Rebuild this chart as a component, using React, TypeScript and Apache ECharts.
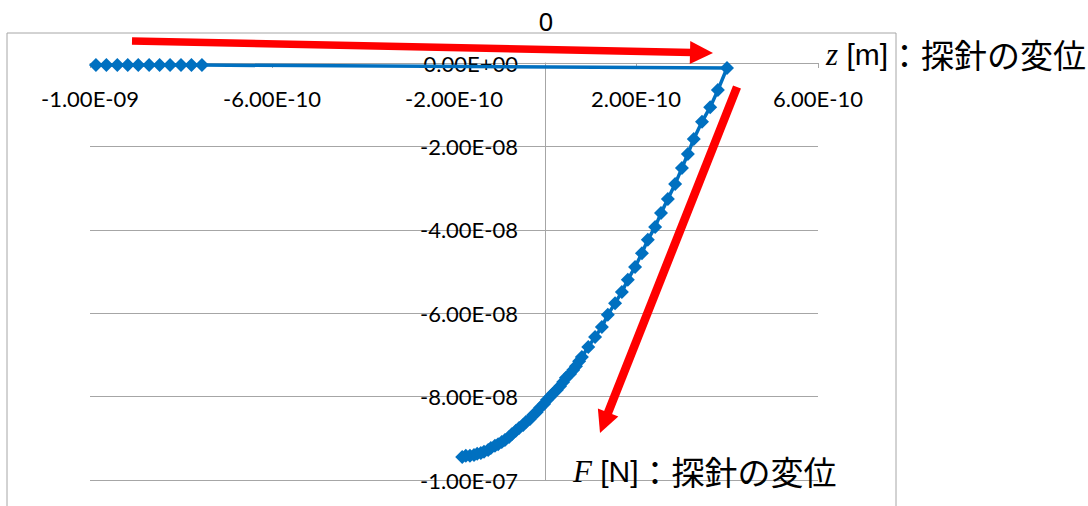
import React, { useEffect, useRef } from "react";
import * as echarts from "echarts";

// Probe displacement z [m] and force F [N], in drawing order
const zValues = [
  -9.87e-10, -9.64e-10, -9.4e-10, -9.17e-10, -8.94e-10, -8.7e-10, -8.47e-10, -8.24e-10, -8.0e-10, -7.77e-10, -7.54e-10,
  4.0e-10, 3.8e-10, 3.63e-10, 3.45e-10, 3.27e-10, 3.14e-10, 3.01e-10, 2.86e-10, 2.7e-10, 2.55e-10, 2.42e-10,
  2.26e-10, 2.13e-10, 1.98e-10, 1.82e-10, 1.69e-10, 1.54e-10, 1.38e-10, 1.25e-10, 1.1e-10, 0.95e-10,
  0.81e-10, 0.75e-10, 0.68e-10, 0.62e-10, 0.55e-10, 0.46e-10, 0.4e-10, 0.33e-10, 0.26e-10, 0.18e-10,
  0.11e-10, 0.04e-10, -0.02e-10, -0.11e-10, -0.18e-10, -0.26e-10, -0.33e-10, -0.42e-10, -0.48e-10, -0.57e-10,
  -0.64e-10, -0.73e-10, -0.79e-10, -0.88e-10, -0.95e-10, -1.03e-10, -1.1e-10, -1.19e-10, -1.25e-10, -1.34e-10,
  -1.41e-10, -1.49e-10, -1.56e-10, -1.65e-10, -1.74e-10, -1.82e-10,
];
const fValues = [
  -0.05e-8, -0.05e-8, -0.05e-8, -0.05e-8, -0.05e-8, -0.05e-8, -0.05e-8, -0.05e-8, -0.05e-8, -0.05e-8, -0.05e-8,
  -0.12e-8, -0.65e-8, -1.06e-8, -1.41e-8, -1.82e-8, -2.18e-8, -2.52e-8, -2.9e-8, -3.26e-8, -3.6e-8, -3.93e-8,
  -4.24e-8, -4.56e-8, -4.89e-8, -5.2e-8, -5.49e-8, -5.76e-8, -6.04e-8, -6.33e-8, -6.57e-8, -6.81e-8,
  -7.05e-8, -7.15e-8, -7.27e-8, -7.36e-8, -7.46e-8, -7.55e-8, -7.65e-8, -7.75e-8, -7.84e-8, -7.92e-8,
  -8.01e-8, -8.08e-8, -8.18e-8, -8.27e-8, -8.37e-8, -8.44e-8, -8.54e-8, -8.61e-8, -8.68e-8, -8.75e-8,
  -8.82e-8, -8.9e-8, -8.97e-8, -9.04e-8, -9.09e-8, -9.14e-8, -9.18e-8, -9.23e-8, -9.28e-8, -9.32e-8,
  -9.35e-8, -9.37e-8, -9.4e-8, -9.42e-8, -9.42e-8, -9.45e-8,
];

// Axis ranges and tick steps
const zMin = -1.0e-9;
const zMax = 6.0e-10;
const zStep = 4.0e-10;
const fMin = -1.0e-7;
const fMax = 0;
const fStep = 2.0e-8;

const titleText = "0";
const zAxisName = ["z", " [m]", "：探針の変位"];
const fAxisName = ["F", " [N]", "：探針の変位"];

const LABEL_FONT = "Lato, 'Noto Sans', sans-serif";
const LABEL_SIZE = 22;
const GRID_GRAY = "#a6a6a6";
const BLUE = "#0070c0";
const RED = "#ff0000";

// plot box
const GRID_LEFT = 90;
const GRID_RIGHT = 270;
const GRID_TOP = 63;
const GRID_BOTTOM = 26;
const PLOT_W = 1088 - GRID_LEFT - GRID_RIGHT;

// Excel-like scientific notation, e.g. -2.00E-08
function sci(v: number): string {
  if (Math.abs(v) < 1e-30) return "0.00E+00";
  let exp = Math.floor(Math.log10(Math.abs(v)) + 1e-9);
  let mant = Math.round((v / Math.pow(10, exp)) * 100) / 100;
  if (Math.abs(mant) >= 10) {
    mant /= 10;
    exp += 1;
  }
  const e = Math.abs(exp).toString().padStart(2, "0");
  return mant.toFixed(2) + "E" + (exp < 0 ? "-" : "+") + e;
}

function arrow(x1: number, y1: number, x2: number, y2: number, width: number, headLen: number, headHalf: number) {
  const dx = x2 - x1;
  const dy = y2 - y1;
  const len = Math.hypot(dx, dy);
  const ux = dx / len;
  const uy = dy / len;
  const bx = x2 - ux * headLen;
  const by = y2 - uy * headLen;
  const px = -uy;
  const py = ux;
  return [
    {
      type: "line",
      shape: { x1, y1, x2: bx + ux * 2, y2: by + uy * 2 },
      style: { stroke: RED, lineWidth: width },
      z: 100,
    },
    {
      type: "polygon",
      shape: {
        points: [
          [x2, y2],
          [bx + px * headHalf, by + py * headHalf],
          [bx - px * headHalf, by - py * headHalf],
        ],
      },
      style: { fill: RED },
      z: 100,
    },
  ];
}

function axisTitle(parts: string[], x: number, y: number) {
  return {
    type: "text",
    x,
    y,
    z: 100,
    style: {
      text: `{it|${parts[0]}}{sans|${parts[1]}}{cjk|${parts[2]}}`,
      align: "left",
      verticalAlign: "middle",
      fill: "#000",
      rich: {
        it: { fontFamily: "'Liberation Serif', serif", fontStyle: "italic", fontSize: 31, fill: "#000" },
        sans: { fontFamily: "'Liberation Sans', sans-serif", fontSize: 30, fill: "#000" },
        cjk: { fontFamily: "'Noto Sans CJK JP', sans-serif", fontSize: 33, fill: "#000" },
      },
    },
  };
}

export default function App() {
  const ref = useRef<HTMLDivElement>(null);

  useEffect(() => {
    if (!ref.current) return;
    const chart = echarts.init(ref.current, null, { renderer: "svg" });
    const points = zValues.map((z, i) => [z, fValues[i]]);
    // the F axis crosses the z axis at z = 0
    const yAxisShift = (-zMin / (zMax - zMin)) * PLOT_W;

    chart.setOption({
      animation: false,
      backgroundColor: "#fff",
      grid: {
        left: GRID_LEFT,
        right: GRID_RIGHT,
        top: GRID_TOP,
        bottom: GRID_BOTTOM,
        containLabel: false,
        outerBoundsMode: "none",
      },
      xAxis: {
        type: "value",
        min: zMin,
        max: zMax,
        interval: zStep,
        position: "top",
        axisLine: { onZero: false, lineStyle: { color: GRID_GRAY, width: 1 } },
        axisTick: { show: true, inside: true, length: 5, lineStyle: { color: GRID_GRAY } },
        splitLine: { show: false },
        axisLabel: {
          inside: true,
          margin: 24,
          fontFamily: LABEL_FONT,
          fontSize: LABEL_SIZE,
          color: "#000",
          formatter: (v: number) => sci(v),
        },
      },
      yAxis: {
        type: "value",
        min: fMin,
        max: fMax,
        interval: fStep,
        position: "left",
        offset: -yAxisShift,
        axisLine: { show: true, onZero: false, lineStyle: { color: GRID_GRAY, width: 1 } },
        axisTick: { show: true, length: 5, lineStyle: { color: GRID_GRAY } },
        splitLine: { show: true, lineStyle: { color: GRID_GRAY, width: 1 } },
        axisLabel: {
          margin: 27,
          fontFamily: LABEL_FONT,
          fontSize: LABEL_SIZE,
          color: "#000",
          formatter: (v: number) => sci(v),
        },
      },
      series: [
        {
          type: "line",
          data: points,
          symbol: "diamond",
          symbolSize: 14,
          showSymbol: true,
          clip: false,
          lineStyle: { color: BLUE, width: 3.5 },
          itemStyle: { color: BLUE },
          z: 3,
        },
      ],
      graphic: [
        {
          type: "rect",
          shape: { x: 7, y: 33, width: 889, height: 520 },
          style: { fill: "none", stroke: GRID_GRAY, lineWidth: 1 },
          silent: true,
        },
        {
          type: "text",
          x: 546,
          y: 21,
          style: {
            text: titleText,
            font: "26px 'Noto Sans', sans-serif",
            fill: "#000",
            align: "center",
            verticalAlign: "middle",
          },
        },
        ...arrow(132, 41, 713, 53, 7.5, 23, 11.5),
        ...arrow(737, 87, 600, 433, 8.5, 22, 11),
        axisTitle(zAxisName, 826, 54),
        axisTitle(fAxisName, 573, 471),
      ],
    });

    return () => chart.dispose();
  }, []);

  return (
    <div
      ref={ref}
      style={{ position: "fixed", left: 0, top: 0, width: 1088, height: 506 }}
    />
  );
}
